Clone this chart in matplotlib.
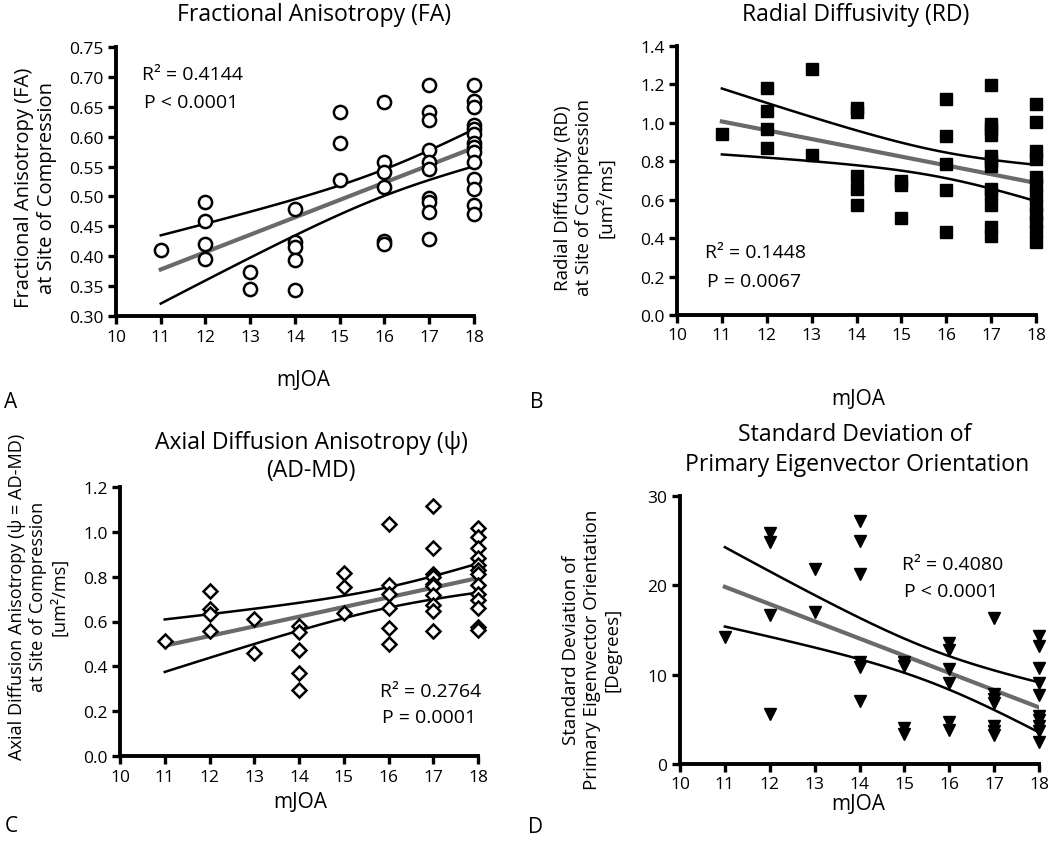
import numpy as np
import matplotlib
matplotlib.use("Agg")
import matplotlib.pyplot as plt

plt.rcParams['font.family'] = ['Open Sans', 'DejaVu Sans']

# values, one list per mJOA score
fa = {
    11: [0.411],
    12: [0.491, 0.459, 0.420, 0.395],
    13: [0.374, 0.346],
    14: [0.479, 0.424, 0.415, 0.393, 0.344],
    15: [0.642, 0.589, 0.528],
    16: [0.658, 0.557, 0.541, 0.515, 0.425, 0.420],
    17: [0.687, 0.642, 0.628, 0.577, 0.558, 0.546, 0.498, 0.490, 0.474, 0.428],
    18: [0.687, 0.660, 0.650, 0.620, 0.613, 0.604, 0.590, 0.582, 0.574, 0.557,
         0.530, 0.513, 0.485, 0.470],
}
rd = {
    11: [0.940],
    12: [1.183, 1.060, 0.966, 0.869],
    13: [1.282, 0.834],
    14: [1.077, 1.056, 0.726, 0.657, 0.570],
    15: [0.695, 0.674, 0.504],
    16: [1.126, 0.929, 0.787, 0.653, 0.434],
    17: [1.199, 0.996, 0.966, 0.935, 0.827, 0.804, 0.778, 0.657, 0.631, 0.573,
         0.457, 0.413],
    18: [1.100, 1.004, 0.856, 0.813, 0.717, 0.674, 0.622, 0.570, 0.526, 0.483,
         0.439, 0.379],
}
psi = {
    11: [0.515],
    12: [0.736, 0.657, 0.634, 0.557],
    13: [0.612, 0.460],
    14: [0.582, 0.555, 0.475, 0.369, 0.294],
    15: [0.818, 0.754, 0.637],
    16: [1.033, 0.764, 0.724, 0.661, 0.572, 0.500],
    17: [1.115, 0.930, 0.813, 0.799, 0.769, 0.758, 0.716, 0.672, 0.649, 0.557],
    18: [1.019, 0.975, 0.930, 0.884, 0.851, 0.828, 0.813, 0.761, 0.724, 0.694,
         0.660, 0.575, 0.564],
}
sdpe = {
    11: [14.25],
    12: [25.9, 24.8, 16.7, 5.6],
    13: [21.8, 17.0],
    14: [27.2, 25.0, 21.3, 11.4, 10.9, 7.0],
    15: [11.4, 11.0, 4.0, 3.4],
    16: [13.6, 12.8, 10.6, 9.1, 4.7, 3.8],
    17: [16.3, 7.8, 7.3, 6.8, 4.3, 3.7, 3.2],
    18: [14.3, 13.2, 10.8, 9.1, 7.7, 5.4, 4.9, 4.3, 3.7, 2.5],
}

xticks = list(range(10, 19))


def flatten(d):
    xs, ys = [], []
    for k, v in d.items():
        xs += [k] * len(v)
        ys += v
    return np.array(xs, float), np.array(ys, float)


def draw_panel(ax, data, marker, filled, ms, yticks, yfmt, stats, stats_pos):
    x, y = flatten(data)
    # linear fit with 95% confidence band of the mean
    n = len(x)
    b, a = np.polyfit(x, y, 1)
    resid = y - (a + b * x)
    s = np.sqrt(np.sum(resid ** 2) / (n - 2))
    xx = np.linspace(11, 18, 100)
    se = s * np.sqrt(1 / n + (xx - x.mean()) ** 2 / np.sum((x - x.mean()) ** 2))
    t = 2.01
    fit = a + b * xx
    ax.plot(xx, fit + t * se, color='black', lw=1.8, zorder=3)
    ax.plot(xx, fit - t * se, color='black', lw=1.8, zorder=3)
    ax.plot(xx, fit, color='#6a6a6a', lw=3, zorder=4)

    ax.plot(x, y, ls='none', marker=marker, ms=ms,
            mfc='black' if filled else 'white', mec='black',
            mew=1.8 if not filled else 1, zorder=5, clip_on=False)

    ax.set_xlim(10, 18)
    ax.set_ylim(yticks[0], yticks[-1])
    ax.set_xticks(xticks)
    ax.set_yticks(yticks)
    ax.set_yticklabels([yfmt.format(v) for v in yticks])
    for side in ['top', 'right']:
        ax.spines[side].set_visible(False)
    for side in ['left', 'bottom']:
        ax.spines[side].set_linewidth(2.8)
    ax.tick_params(width=2.4, length=6, labelsize=12.5, pad=3)
    ax.set_facecolor('none')

    ax.text(stats_pos[0], stats_pos[1], stats[0], transform=ax.transAxes,
            fontsize=14, ha='left', va='center')
    ax.text(stats_pos[0] + 0.006, stats_pos[2], stats[1], transform=ax.transAxes,
            fontsize=14, ha='left', va='center')


W, H = 1050, 845
fig = plt.figure(figsize=(W / 100, H / 100), dpi=100)


def axes_px(l, r, t, b):
    return fig.add_axes([l / W, 1 - b / H, (r - l) / W, (b - t) / H])


axA = axes_px(116, 474, 48, 317)
axB = axes_px(677, 1036, 47, 316)
axC = axes_px(120, 478, 488, 757)
axD = axes_px(680, 1039, 497, 765)

draw_panel(axA, fa, 'o', False, 9.5, np.round(np.arange(0.30, 0.751, 0.05), 2), '{:.2f}',
           ['R² = 0.4144', 'P < 0.0001'], (0.073, 0.90, 0.795))
draw_panel(axB, rd, 's', True, 8.5, np.round(np.arange(0.0, 1.41, 0.2), 1), '{:.1f}',
           ['R² = 0.1448', 'P = 0.0067'], (0.078, 0.234, 0.126))
draw_panel(axC, psi, 'D', False, 7.3, np.round(np.arange(0.0, 1.21, 0.2), 1), '{:.1f}',
           ['R² = 0.2764', 'P = 0.0001'], (0.726, 0.242, 0.145))
draw_panel(axD, sdpe, 'v', True, 8.5, [0, 10, 20, 30], '{:d}',
           ['R² = 0.4080', 'P < 0.0001'], (0.618, 0.746, 0.646))


def ftext(x, y, s, **kw):
    fig.text(x / W, 1 - y / H, s, **kw)


# titles
tkw = dict(fontsize=16.6, ha='center', va='center')
ftext(314, 15, 'Fractional Anisotropy (FA)', **tkw)
ftext(856, 15, 'Radial Diffusivity (RD)', **tkw)
ftext(311, 443, 'Axial Diffusion Anisotropy (ψ)', **tkw)
ftext(311, 471, '(AD-MD)', **tkw)
ftext(855, 435, 'Standard Deviation of', **tkw)
ftext(857, 465, 'Primary Eigenvector Orientation', **tkw)

# y labels
ylab_kw = dict(ha='center', va='center', rotation=90,
               multialignment='center', linespacing=1.2)
ftext(36, 188, 'Fractional Anisotropy (FA)\nat Site of Compression', fontsize=14.5, **ylab_kw)
ftext(585, 198, 'Radial Diffusivity (RD)\nat Site of Compression\n[um²/ms]', fontsize=13.5, **ylab_kw)
ftext(38, 597, 'Axial Diffusion Anisotropy (ψ = AD-MD)\nat Site of Compression\n[um²/ms]', fontsize=13.1, **ylab_kw)
ftext(592, 650, 'Standard Deviation of\nPrimary Eigenvector Orientation\n[Degrees]', fontsize=13.5, **ylab_kw)

# x labels
xkw = dict(fontsize=15, ha='center', va='center')
ftext(303, 380, 'mJOA', **xkw)
ftext(858, 400, 'mJOA', **xkw)
ftext(300, 803, 'mJOA', **xkw)
ftext(858, 805, 'mJOA', **xkw)

# panel letters
lkw = dict(fontsize=15, ha='center', va='center')
ftext(11, 403, 'A', **lkw)
ftext(537, 403, 'B', **lkw)
ftext(11, 827, 'C', **lkw)
ftext(536, 828, 'D', **lkw)

fig.savefig('out.png', dpi=100)
